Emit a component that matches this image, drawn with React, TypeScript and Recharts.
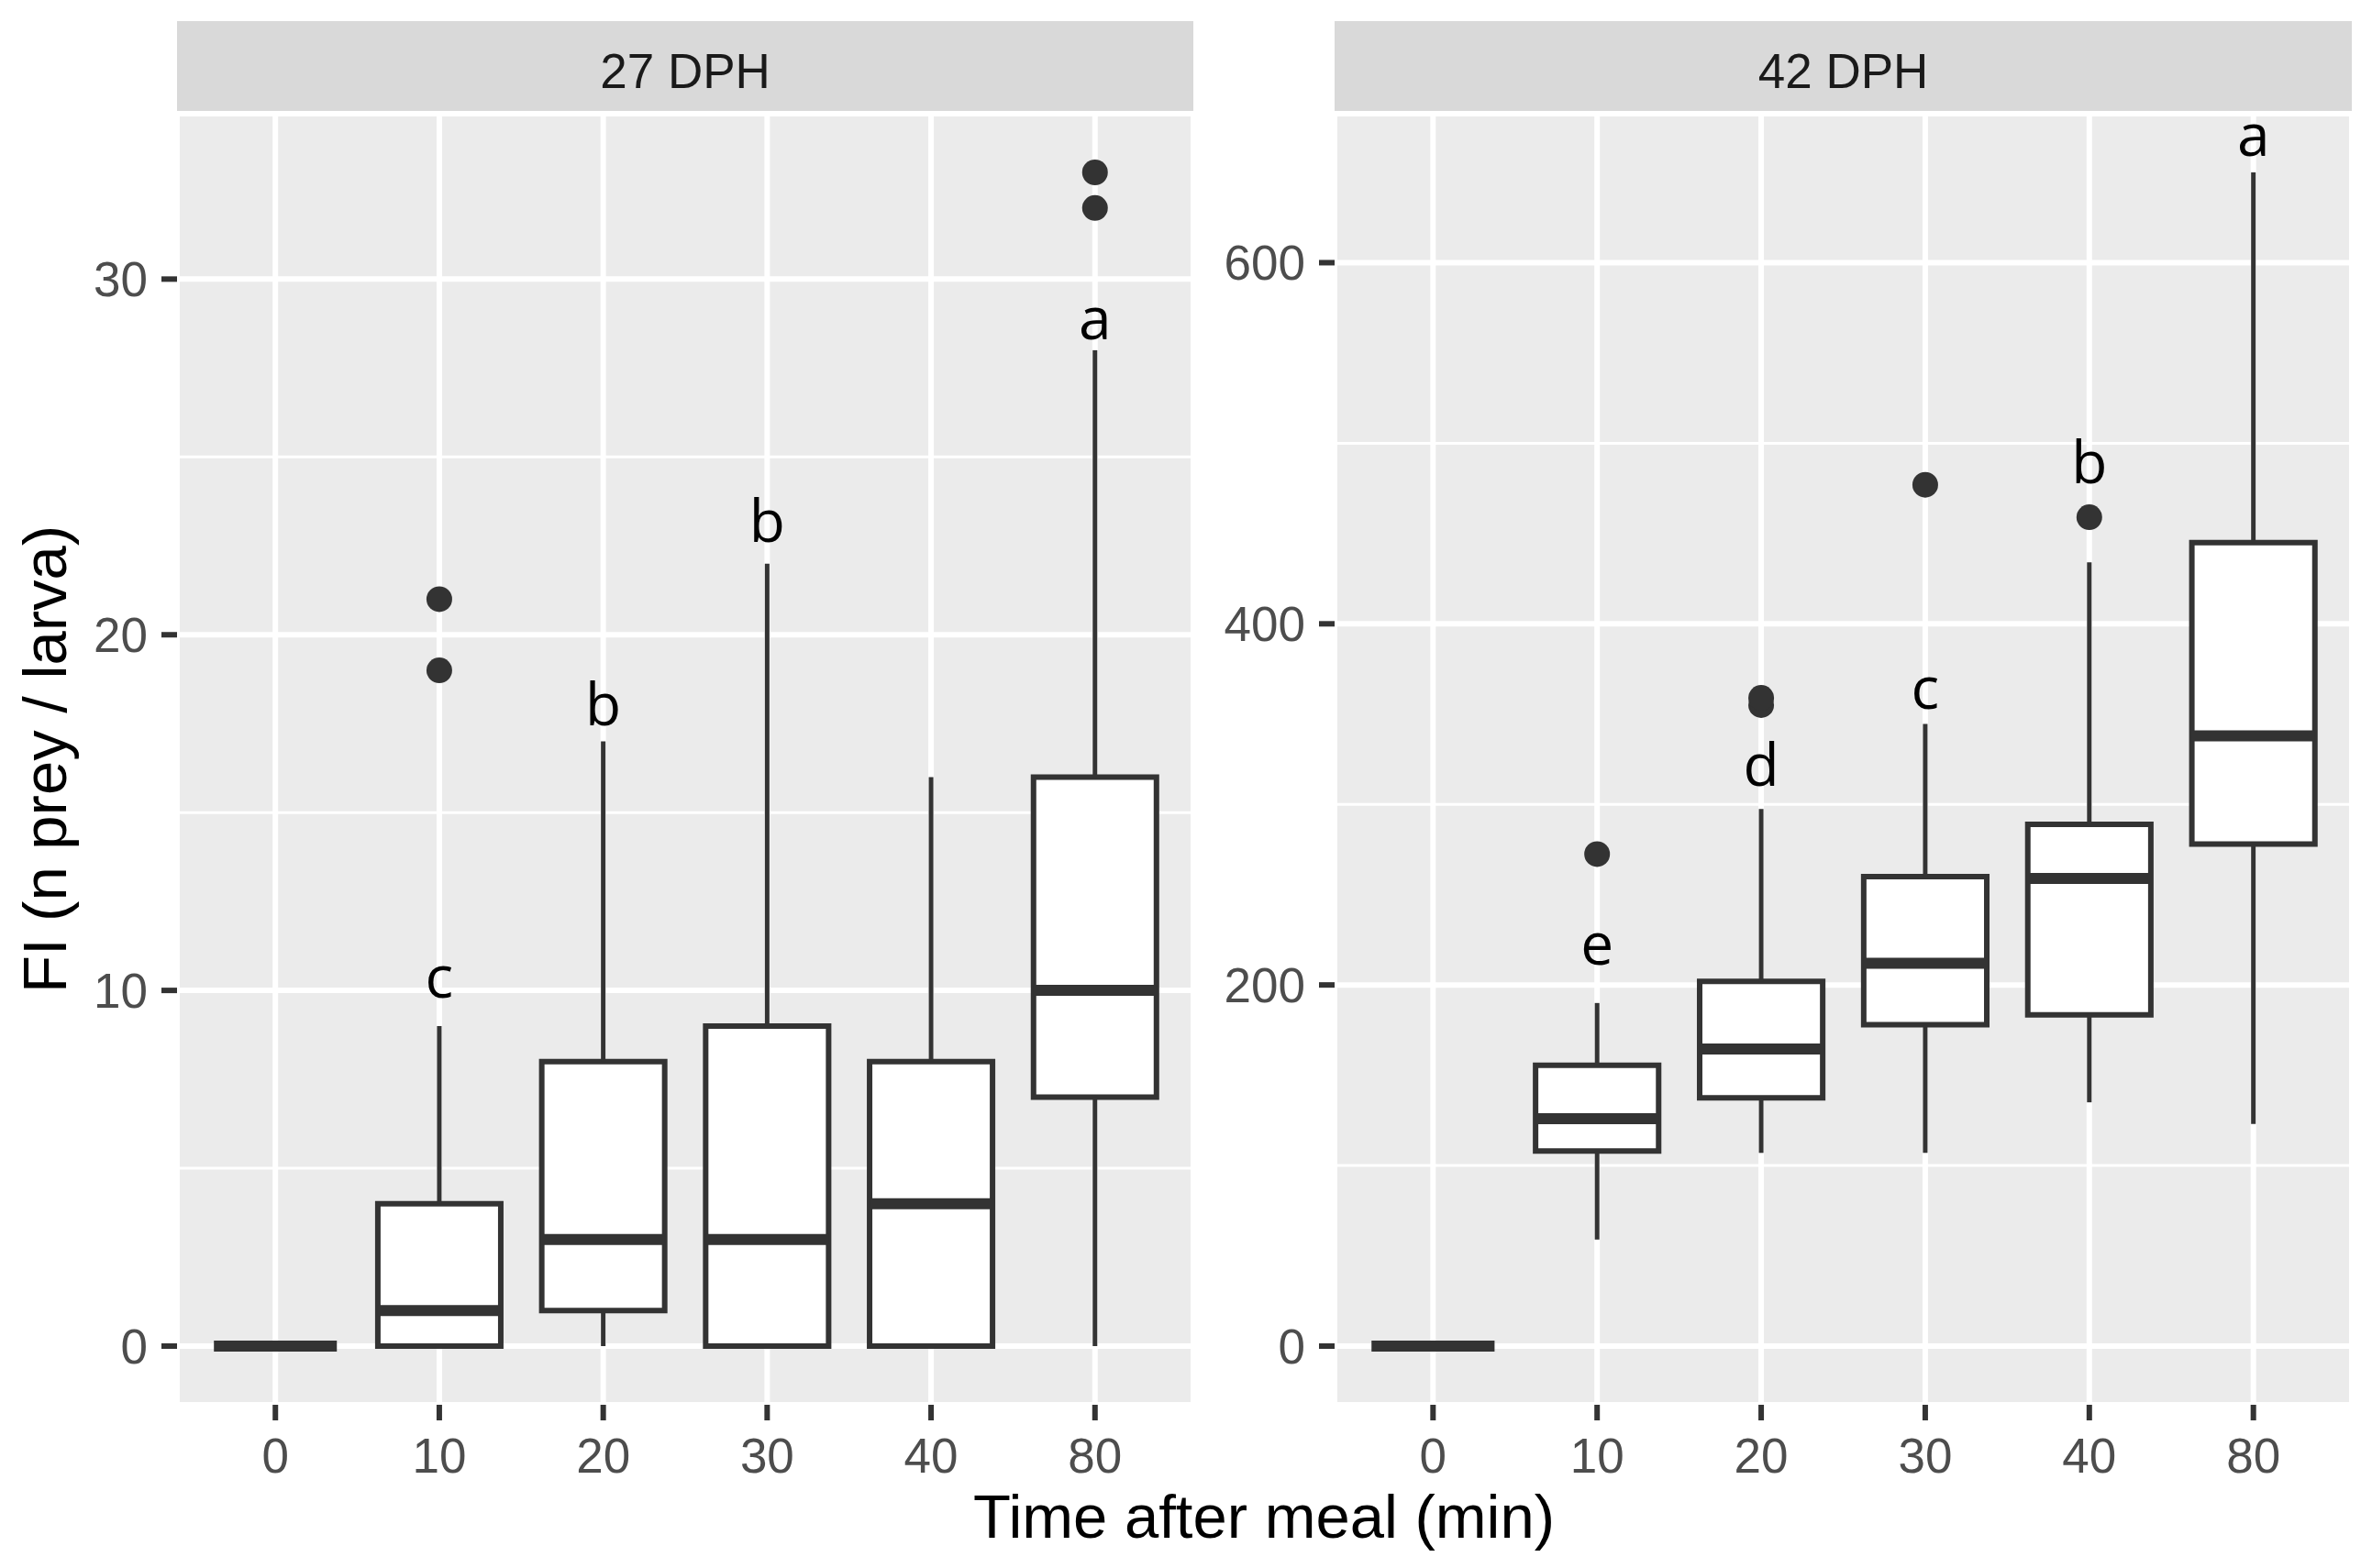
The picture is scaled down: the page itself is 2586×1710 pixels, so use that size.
import React from 'react';
import {
  ComposedChart,
  XAxis,
  YAxis,
  CartesianGrid,
  ReferenceArea,
  ReferenceLine,
  Scatter,
} from 'recharts';

// ---------- data ----------
const timeCategories = ['0', '10', '20', '30', '40', '80'];
const panelLabels = ['27 DPH', '42 DPH'];
const xAxisTitle = 'Time after meal (min)';
const yAxisTitle = 'FI (n prey / larva)';

// 27 DPH
const dph27Lower = [0, 0, 0, 0, 0, 0];
const dph27Q1 = [0, 0, 1, 0, 0, 7];
const dph27Median = [0, 1, 3, 3, 4, 10];
const dph27Q3 = [0, 4, 8, 9, 8, 16];
const dph27Upper = [0, 9, 17, 22, 16, 28];
const dph27Outliers: number[][] = [[], [19, 21], [], [], [], [32, 33]];
const dph27Letters = ['', 'c', 'b', 'b', '', 'a'];
const dph27LetterY = [0, 9.8, 17.45, 22.6, 0, 28.3];
const dph27Ticks = [0, 10, 20, 30];
const dph27MinorTicks = [5, 15, 25];

// 42 DPH
const dph42Lower = [0, 59, 107, 107, 135, 123];
const dph42Q1 = [0, 108, 137.5, 178, 183.5, 278];
const dph42Median = [0, 126, 164.5, 212, 259, 338];
const dph42Q3 = [0, 155.5, 202, 260, 289, 445];
const dph42Upper = [0, 190, 297.5, 344.5, 434, 650];
const dph42Outliers: number[][] = [[], [272.5], [355, 359], [477], [459], []];
const dph42Letters = ['', 'e', 'd', 'c', 'b', 'a'];
const dph42LetterY = [0, 211, 310.5, 353, 478, 659];
const dph42Ticks = [0, 200, 400, 600];
const dph42MinorTicks = [100, 300, 500];

// ---------- styles ----------
const FONT = '"Liberation Sans", Arial, Helvetica, sans-serif';
const LETTER_FONT = '"Open Sans", "Noto Sans", sans-serif';
const INK = '#333333';
const CHART_TOP = 23;
const STRIP_HEIGHT = 101;
const PLOT_HEIGHT = 1408;
const X_AXIS_HEIGHT = 110;
const HALF_BOX = 0.375;

type PanelProps = {
  chartLeft: number;
  chartWidth: number;
  yAxisWidth: number;
  lower: number[];
  q1: number[];
  median: number[];
  q3: number[];
  upper: number[];
  outliers: number[][];
  letters: string[];
  letterY: number[];
  yTicks: number[];
  yMinor: number[];
};

const OutlierDot = (p: any) => <circle cx={p.cx} cy={p.cy} r={14} fill={INK} />;

const LetterMark = (p: any) => (
  <text
    x={p.cx}
    y={p.cy}
    textAnchor="middle"
    fontFamily={LETTER_FONT}
    fontSize={64}
    fill="#000000"
  >
    {p.payload.t}
  </text>
);

function BoxPanel(props: PanelProps) {
  const { chartLeft, chartWidth, yAxisWidth, lower, q1, median, q3, upper, outliers, letters, letterY, yTicks, yMinor } = props;
  const positions = timeCategories.map((_, i) => i + 1);
  const allVals = [...lower, ...upper, ...outliers.flat()];
  const lo = Math.min(...allVals);
  const hi = Math.max(...allVals);
  const pad = (hi - lo) * 0.05;
  const yDomain = [lo - pad, hi + pad];
  const xDomain = [1 - 0.6, positions.length + 0.6];
  const outlierData = outliers.flatMap((vals, i) => vals.map((v) => ({ x: i + 1, y: v })));
  const letterData = letters
    .map((t, i) => ({ x: i + 1, y: letterY[i], t }))
    .filter((d) => d.t);

  return (
    <div style={{ position: 'absolute', left: chartLeft, top: CHART_TOP }}>
      <ComposedChart
        width={chartWidth}
        height={STRIP_HEIGHT + PLOT_HEIGHT + X_AXIS_HEIGHT}
        margin={{ top: STRIP_HEIGHT, right: 0, bottom: 0, left: 0 }}
      >
        <CartesianGrid
          horizontalValues={yMinor}
          vertical={false}
          stroke="#FFFFFF"
          strokeWidth={3}
          fill="#EBEBEB"
          fillOpacity={1}
        />
        <CartesianGrid stroke="#FFFFFF" strokeWidth={6} />
        <XAxis
          type="number"
          dataKey="x"
          domain={xDomain}
          ticks={positions}
          tickFormatter={(v: number) => timeCategories[v - 1]}
          allowDataOverflow
          interval={0}
          height={X_AXIS_HEIGHT}
          axisLine={false}
          tickLine={{ stroke: INK, strokeWidth: 6 }}
          tickSize={17}
          tickMargin={19}
          tick={{ fill: '#4D4D4D', fontSize: 53, fontFamily: FONT }}
        />
        <YAxis
          type="number"
          dataKey="y"
          domain={yDomain}
          ticks={yTicks}
          allowDataOverflow
          interval={0}
          width={yAxisWidth}
          axisLine={false}
          tickLine={{ stroke: INK, strokeWidth: 6 }}
          tickSize={17}
          tickMargin={15}
          tick={{ fill: '#4D4D4D', fontSize: 53, fontFamily: FONT }}
        />
        {positions.map((p, i) => (
          <ReferenceLine
            key={'wu' + i}
            segment={[{ x: p, y: q3[i] }, { x: p, y: upper[i] }]}
            stroke={INK}
            strokeWidth={5}
          />
        ))}
        {positions.map((p, i) => (
          <ReferenceLine
            key={'wl' + i}
            segment={[{ x: p, y: lower[i] }, { x: p, y: q1[i] }]}
            stroke={INK}
            strokeWidth={5}
          />
        ))}
        {positions.map((p, i) => (
          <ReferenceArea
            key={'box' + i}
            x1={p - HALF_BOX}
            x2={p + HALF_BOX}
            y1={q1[i]}
            y2={q3[i]}
            fill="#FFFFFF"
            fillOpacity={1}
            stroke={INK}
            strokeWidth={6}
            strokeOpacity={1}
          />
        ))}
        {positions.map((p, i) => (
          <ReferenceLine
            key={'med' + i}
            segment={[{ x: p - HALF_BOX, y: median[i] }, { x: p + HALF_BOX, y: median[i] }]}
            stroke={INK}
            strokeWidth={12}
          />
        ))}
        <Scatter data={outlierData} shape={OutlierDot} isAnimationActive={false} />
        <Scatter data={letterData} shape={LetterMark} isAnimationActive={false} />
      </ComposedChart>
    </div>
  );
}

export default function App() {
  return (
    <div
      style={{
        position: 'absolute',
        left: 0,
        top: 0,
        width: 2586,
        height: 1710,
        background: '#FFFFFF',
        overflow: 'hidden',
      }}
    >
      <svg
        width={2586}
        height={1710}
        style={{ position: 'absolute', left: 0, top: 0, pointerEvents: 'none' }}
      >
        <rect x={193} y={23} width={1108} height={101} fill="#D9D9D9" />
        <text x={747} y={96} textAnchor="middle" fontFamily={FONT} fontSize={53} fill="#1A1A1A">
          {panelLabels[0]}
        </text>
        <rect x={1455} y={23} width={1109} height={101} fill="#D9D9D9" />
        <text x={2009.5} y={96} textAnchor="middle" fontFamily={FONT} fontSize={53} fill="#1A1A1A">
          {panelLabels[1]}
        </text>
        <text x={1378} y={1677} textAnchor="middle" fontFamily={FONT} fontSize={67} fill="#000000">
          {xAxisTitle}
        </text>
        <text
          transform="translate(72, 828) rotate(-90)"
          textAnchor="middle"
          fontFamily={FONT}
          fontSize={67}
          fill="#000000"
        >
          {yAxisTitle}
        </text>
      </svg>
      <BoxPanel
        chartLeft={0}
        chartWidth={1301}
        yAxisWidth={193}
        lower={dph27Lower}
        q1={dph27Q1}
        median={dph27Median}
        q3={dph27Q3}
        upper={dph27Upper}
        outliers={dph27Outliers}
        letters={dph27Letters}
        letterY={dph27LetterY}
        yTicks={dph27Ticks}
        yMinor={dph27MinorTicks}
      />
      <BoxPanel
        chartLeft={1295}
        chartWidth={1269}
        yAxisWidth={160}
        lower={dph42Lower}
        q1={dph42Q1}
        median={dph42Median}
        q3={dph42Q3}
        upper={dph42Upper}
        outliers={dph42Outliers}
        letters={dph42Letters}
        letterY={dph42LetterY}
        yTicks={dph42Ticks}
        yMinor={dph42MinorTicks}
      />
    </div>
  );
}
